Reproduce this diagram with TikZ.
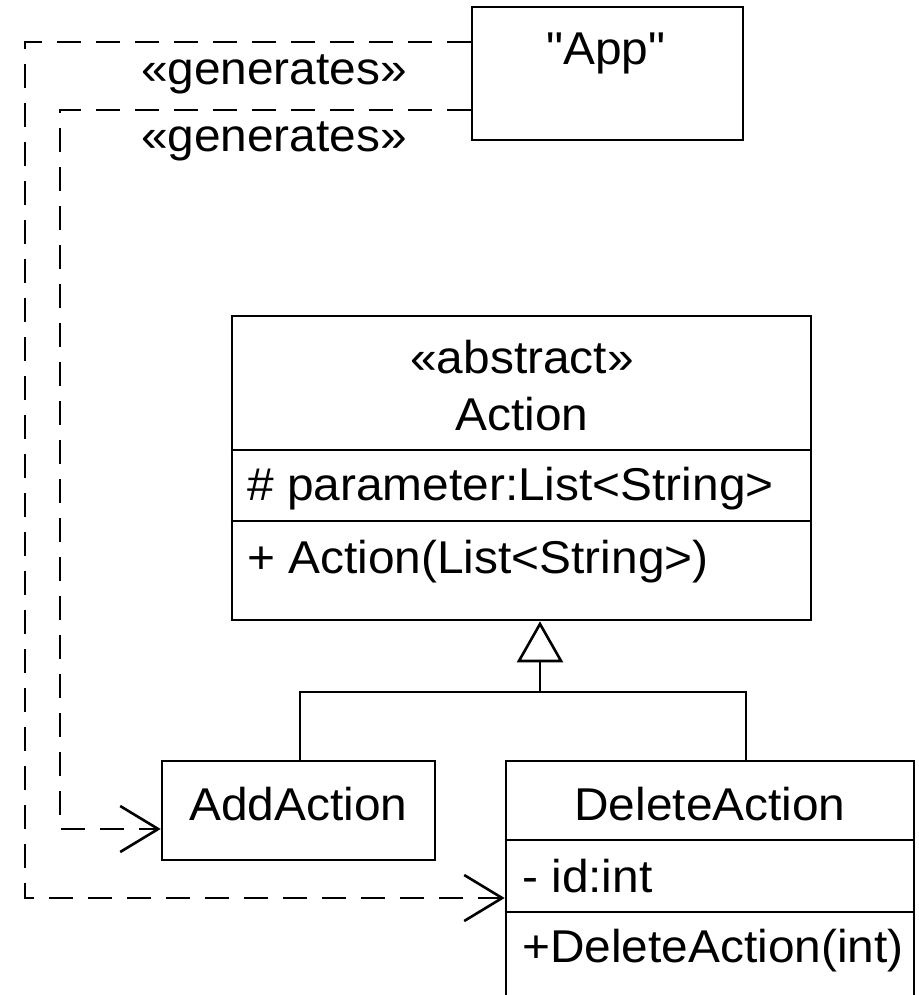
\documentclass[tikz,border=0pt]{standalone}
\usepackage{fontspec}
\setmainfont{Liberation Sans}[Ligatures=TeXOff, FakeStretch=1.04]
\usetikzlibrary{arrows.meta}
\begin{document}
\begin{tikzpicture}[x=1pt,y=-1pt,
  umlbox/.style={draw, line width=2.6pt, rectangle, inner sep=0pt, fill=white},
  txt/.style={font=\fontsize{46}{52}\selectfont, inner sep=0pt},
  sep/.style={line width=2.6pt},
  dep/.style={line width=2.8pt, dash pattern=on 24pt off 15pt,
    -{Straight Barb[length=38pt,width=46pt,line width=2.6pt]}},
  gen/.style={line width=2.6pt, -{Triangle[open,length=41pt,width=46pt,line width=2.6pt]}},
  plain/.style={line width=2.6pt}]
\useasboundingbox (0,0) rectangle (918,995);
\clip (0,0) rectangle (918,995);

% boxes
\node[umlbox, minimum width=271pt, minimum height=133pt] (app) at (607.5,73.5) {};
\node[umlbox, minimum width=579pt, minimum height=304pt] (act) at (521.5,468) {};
\node[umlbox, minimum width=273pt, minimum height=99pt] (add) at (298.5,810.5) {};
\node[umlbox, minimum width=408pt, minimum height=259pt] (del) at (710,890.5) {};

% separators
\draw[sep] (act.west |- 0,450) -- (act.east |- 0,450);
\draw[sep] (act.west |- 0,521) -- (act.east |- 0,521);
\draw[sep] (del.west |- 0,840) -- (del.east |- 0,840);
\draw[sep] (del.west |- 0,912) -- (del.east |- 0,912);

% texts
\node[txt, anchor=base] (tapp) at (606,65) {"App"};
\node[txt, anchor=base] (tabs) at (522,373) {«abstract»};
\node[txt, anchor=base] (tact) at (522,430) {Action};
\node[txt, anchor=base west] (tpar) at (247,500) {\# parameter:List<String>};
\node[txt, anchor=base west] (tcon) at (247,573) {+ Action(List<String>)};
\node[txt, anchor=base] (tadd) at (298.5,820) {AddAction};
\node[txt, anchor=base] (tdel) at (710,820) {DeleteAction};
\node[txt, anchor=base west] (tid) at (522,892) {- id:int};
\node[txt, anchor=base west] (tdc) at (522,962) {+DeleteAction(int)};
\node[txt, anchor=base] (g1) at (274,85) {«generates»};
\node[txt, anchor=base] (g2) at (274,152) {«generates»};

% dependencies
\draw[dep] (app.west |- 0,42) -| (25,898) -- (del.west |- 0,898);
\draw[dep] (app.west |- 0,110) -| (60,829) -- (add.west |- 0,829);

% generalization
\coordinate (j) at (540,692);
\draw[plain] (add.north -| 300,0) |- (j);
\draw[plain] (del.north -| 746,0) |- (j);
\draw[gen] (j) -- (act.south -| j);
\end{tikzpicture}
\end{document}
